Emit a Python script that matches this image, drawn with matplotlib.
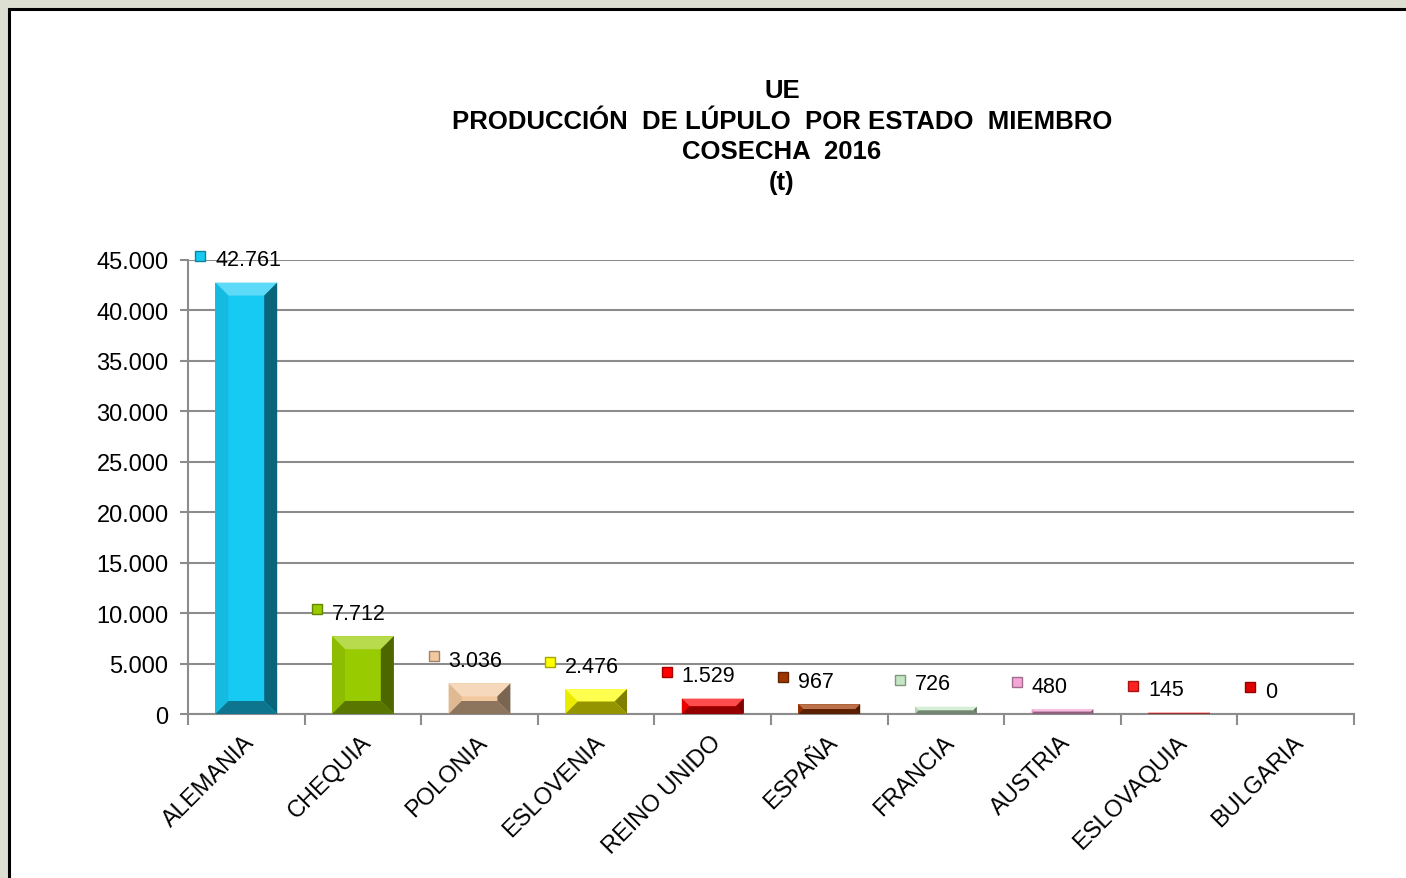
import matplotlib
matplotlib.use("Agg")
import matplotlib.pyplot as plt
from matplotlib.patches import Rectangle, Polygon
from matplotlib.transforms import ScaledTranslation
from matplotlib.colors import to_rgb

plt.rcParams['font.family'] = ['Liberation Sans', 'DejaVu Sans']

# data
countries = ['ALEMANIA', 'CHEQUIA', 'POLONIA', 'ESLOVENIA', 'REINO UNIDO',
             'ESPAÑA', 'FRANCIA', 'AUSTRIA', 'ESLOVAQUIA', 'BULGARIA']
production = [42761, 7712, 3036, 2476, 1529, 967, 726, 480, 145, 0]
value_labels = ['42.761', '7.712', '3.036', '2.476', '1.529', '967', '726', '480', '145', '0']
colors = ['#16caf3', '#99cc00', '#f2c99f', '#ffff00', '#ff0000',
          '#9c3500', '#c4e6c4', '#f5a6d8', '#ff2020', '#e00000']
yticks = [0, 5000, 10000, 15000, 20000, 25000, 30000, 35000, 40000, 45000]
ytick_labels = ['0', '5.000', '10.000', '15.000', '20.000', '25.000',
                '30.000', '35.000', '40.000', '45.000']
title = 'UE\nPRODUCCIÓN  DE LÚPULO  POR ESTADO  MIEMBRO\nCOSECHA  2016\n(t)'

W, H = 1406, 879
fig = plt.figure(figsize=(W / 100, H / 100), dpi=100, facecolor='#dcdfd2')

# white chart area with black frame (top and left visible)
fig.patches.append(Rectangle((9 / W, -0.05), 1.05, 1 - 10 / H + 0.05,
                             transform=fig.transFigure, facecolor='white',
                             edgecolor='black', linewidth=2.2, zorder=-5))

left, right, bottom, top = 188 / W, 1354 / W, 1 - 715 / H, 1 - 261 / H
ax = fig.add_axes([left, bottom, right - left, top - bottom])
ax.set_zorder(2)
ax.set_facecolor('none')
ax.set_xlim(-0.5, 9.5)
ax.set_ylim(0, 45000)

grid_c = '#8c8c8c'
ax.set_yticks(yticks)
ax.set_yticklabels(ytick_labels, fontsize=17)
ax.yaxis.grid(True, color=grid_c, linewidth=1.5)
ax.set_axisbelow(True)
ax.tick_params(axis='y', length=6, width=1.5, color=grid_c, pad=8)
ax.set_xticks(range(len(countries)))
ax.set_xticklabels(countries, fontsize=17, rotation=45, ha='right',
                   va='top', rotation_mode='anchor')
ax.set_xticks([i - 0.5 for i in range(len(countries) + 1)], minor=True)
ax.tick_params(axis='x', which='major', length=0, pad=12)
ax.tick_params(axis='x', which='minor', length=8, width=1.5, color=grid_c)
for lab in ax.get_xticklabels():
    lab.set_transform(lab.get_transform() + ScaledTranslation(-3 / 100, 0, fig.dpi_scale_trans))
for s in ['top', 'right']:
    ax.spines[s].set_visible(False)
for s in ['left', 'bottom']:
    ax.spines[s].set_color(grid_c)
    ax.spines[s].set_linewidth(1.5)


def shade(c, f):
    r, g, b = to_rgb(c)
    if f >= 0:
        return (r + (1 - r) * f, g + (1 - g) * f, b + (1 - b) * f)
    return (r * (1 + f), g * (1 + f), b * (1 + f))


bw = 0.53
px_x = (right - left) * W / 10.0
px_y = (top - bottom) * H / 45000.0
bev = 13
bars = ax.bar(range(len(countries)), production, width=bw, color=colors,
              linewidth=0, zorder=2)
for bar, c in zip(bars, colors):
    x0, y0 = bar.get_x(), 0
    x1, y1 = x0 + bar.get_width(), bar.get_height()
    if y1 <= 0:
        continue
    bx = bev / px_x
    by = min(bev / px_y, y1 / 2)
    bxx = min(bx, by * px_y / px_x) if y1 / 2 < bev / px_y else bx
    polys = [
        ([(x0, y1), (x1, y1), (x1 - bxx, y1 - by), (x0 + bxx, y1 - by)], shade(c, 0.3)),
        ([(x0, y0), (x0, y1), (x0 + bxx, y1 - by), (x0 + bxx, y0 + by)], shade(c, -0.08)),
        ([(x1, y0), (x1, y1), (x1 - bxx, y1 - by), (x1 - bxx, y0 + by)], shade(c, -0.5)),
        ([(x0, y0), (x1, y0), (x1 - bxx, y0 + by), (x0 + bxx, y0 + by)], shade(c, -0.42)),
    ]
    for pts, fc in polys:
        ax.add_patch(Polygon(pts, closed=True, facecolor=fc, edgecolor='none', zorder=3))

# data labels with legend key
for i, (v, lab, c) in enumerate(zip(production, value_labels, colors)):
    mk = ax.transData + ScaledTranslation(-46 / 100, 27 / 100, fig.dpi_scale_trans)
    ax.plot([i], [v], marker='s', markersize=7.5, color=c,
            markeredgecolor=shade(c, -0.35), markeredgewidth=1,
            transform=mk, clip_on=False, zorder=4)
    ax.annotate(lab, xy=(i, v), xytext=(-31, 23), textcoords='offset pixels',
                ha='left', va='center', fontsize=15.5, zorder=4)

fig.text(782 / W, 1 - 137 / H, title, ha='center', va='center', fontsize=18.5,
         fontweight='bold', linespacing=1.36)

fig.savefig('out.png', dpi=100, facecolor=fig.get_facecolor())
